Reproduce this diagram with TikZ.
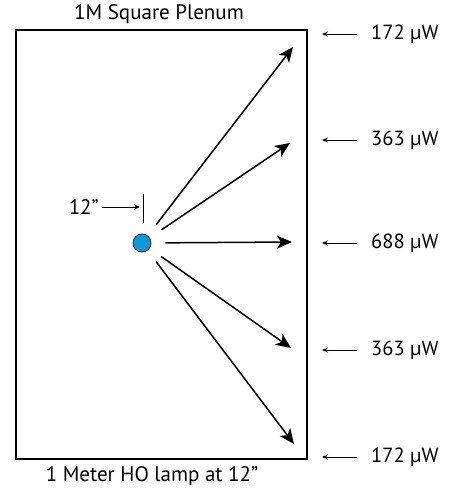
\documentclass[tikz,border=0pt]{standalone}
\usepackage{fontspec}
\setmainfont{PT Sans}
\usetikzlibrary{arrows.meta,positioning}

\definecolor{lampblue}{RGB}{20,150,215}

\begin{document}
\begin{tikzpicture}[x=1pt, y=-1pt,
  plenum/.style={draw, line width=2pt},
  lampdot/.style={circle, draw=black!80, line width=0.9pt, fill=lampblue, minimum size=18pt, inner sep=0pt},
  ray/.style={-{Stealth[length=15pt, width=13pt, inset=4pt]}, line width=1.5pt, shorten <=14pt},
  reading/.style={anchor=west, font=\fontsize{20.5}{23}\selectfont, inner sep=0pt},
  caption/.style={font=\fontsize{21}{23}\selectfont, inner sep=0pt},
  ptr/.style={-{Stealth[length=6pt, width=5pt]}, line width=0.8pt}
]
\useasboundingbox (0,0) rectangle (453,490);

\draw[plenum] (16,30) rectangle (307,459);
\node[caption] (title) at (159,14) {1M Square Plenum};
\node[caption] (lampcap) at (152,476) {1 Meter HO lamp at 12\char"201D};

% lamp and the 12" offset
\node[lampdot] (lamp) at (142,243) {};
\draw[line width=1pt] (143,194) -- (143,223);
\coordinate (tick) at (140,207);
\node[caption, anchor=east] (dist) at (99,207) {12\char"201D};
\draw[ptr] (dist.east) ++(3,0) -- (tick);

% rays to the far wall
\coordinate (t1) at (293,47);
\coordinate (t2) at (290,143);
\coordinate (t3) at (292,242);
\coordinate (t4) at (291,348);
\coordinate (t5) at (294,444);
\foreach \t in {t1,t2,t3,t4,t5}
  \draw[ray] (lamp) -- (\t);

% readings
\node[reading] (r1) at (371,34) {172 µW};
\node[reading] (r2) at (371,140) {363 µW};
\node[reading] (r3) at (371,243) {688 µW};
\node[reading] (r4) at (371,350) {363 µW};
\node[reading] (r5) at (371,457) {172 µW};
\foreach \r/\y in {r1/34,r2/140,r3/243,r4/350,r5/457} {
  \coordinate (w\r) at (322,\y);
  \draw[ptr] (\r.west) ++(-14,0) -- (w\r);
}
\end{tikzpicture}
\end{document}
